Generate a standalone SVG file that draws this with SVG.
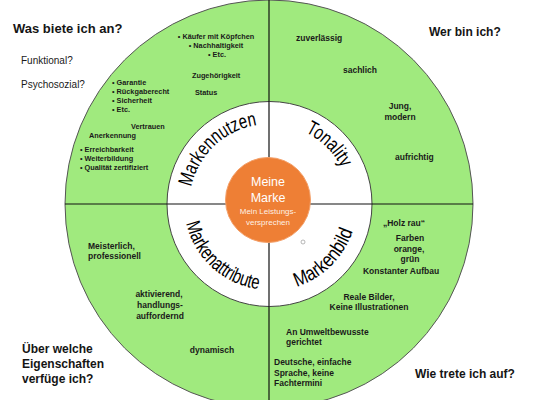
<svg xmlns="http://www.w3.org/2000/svg" width="533" height="400" viewBox="0 0 533 400">
<style>
  .q{font-family:"Liberation Sans",Arial,sans-serif;font-weight:bold;fill:#1a1a1a}
  .s{font-size:7.3px}
  .m{font-size:8.5px}
  .h{font-family:"Liberation Sans",Arial,sans-serif;font-weight:bold;fill:#151515}
  .n{font-family:"Liberation Sans",Arial,sans-serif;font-size:10px;fill:#1a1a1a}
  .arc{font-family:"Liberation Sans",Arial,sans-serif;font-size:20px;fill:#000}
  .c{text-anchor:middle}
  .w{font-family:"Liberation Sans",Arial,sans-serif;fill:#fff;text-anchor:middle}
</style>
<defs>
  <path id="pNutzen" d="M191.3,187.1 A80,80 0 0 1 257.5,125"/>
  <path id="pTon" d="M305.1,132.1 A80,80 0 0 1 341.2,167.2"/>
  <path id="pAttr" d="M186.2,223.3 A86,86 0 0 0 258.2,289.2"/>
  <path id="pBild" d="M296.6,286.8 A87,87 0 0 0 352.3,232.3"/>
</defs>
<rect width="533" height="400" fill="#fff"/>
<g id="ring">
  <circle cx="269" cy="204" r="204" fill="#a0ea7e" stroke="#555" stroke-width="1"/>
  <circle cx="269.5" cy="204" r="102.5" fill="#fff" stroke="#444" stroke-width="1"/>
</g>
<g id="connectors" stroke="#111" stroke-width="1.2">
  <line x1="269" y1="0" x2="269" y2="400"/>
  <line x1="65" y1="204" x2="473" y2="204"/>
</g>
<g id="core">
  <circle cx="268" cy="200" r="42.5" fill="#ee7f35" stroke="#f3a06a" stroke-width="1"/>
  <text class="w" x="268" y="185.5" font-size="12.5">Meine</text>
  <text class="w" x="268" y="201.5" font-size="12.5">Marke</text>
  <text class="w" x="268" y="214" font-size="8" fill-opacity="0.9">Mein Leistungs-</text>
  <text class="w" x="268" y="224.5" font-size="8" fill-opacity="0.9">versprechen</text>
</g>
<g id="markennutzen">
  <text class="arc"><textPath href="#pNutzen" textLength="96" lengthAdjust="spacingAndGlyphs">Markennutzen</textPath></text>
  <text class="q s c" x="216" y="39">• Käufer mit Köpfchen</text>
  <text class="q s c" x="216" y="48">• Nachhaltigkeit</text>
  <text class="q s c" x="217" y="57">• Etc.</text>
  <text class="q s" x="192" y="78">Zugehörigkeit</text>
  <text class="q s" x="195" y="95">Status</text>
  <text class="q s" x="112" y="85">• Garantie</text>
  <text class="q s" x="112" y="94">• Rückgaberecht</text>
  <text class="q s" x="112" y="103">• Sicherheit</text>
  <text class="q s" x="112" y="112">• Etc.</text>
  <text class="q s" x="131" y="129">Vertrauen</text>
  <text class="q s" x="89" y="138">Anerkennung</text>
  <text class="q s" x="80" y="152">• Erreichbarkeit</text>
  <text class="q s" x="80" y="161">• Weiterbildung</text>
  <text class="q s" x="80" y="170">• Qualität zertifiziert</text>
</g>
<g id="tonality">
  <text class="arc"><textPath href="#pTon" textLength="52" lengthAdjust="spacingAndGlyphs">Tonality</textPath></text>
  <text class="q m" x="296" y="41">zuverlässig</text>
  <text class="q m" x="343" y="73">sachlich</text>
  <text class="q m c" x="400" y="109">Jung,</text>
  <text class="q m c" x="400" y="120">modern</text>
  <text class="q m" x="395" y="160">aufrichtig</text>
</g>
<g id="markenattribute">
  <text class="arc"><textPath href="#pAttr" textLength="104" lengthAdjust="spacingAndGlyphs">Markenattribute</textPath></text>
  <text class="q m" x="88" y="249">Meisterlich,</text>
  <text class="q m" x="88" y="259">professionell</text>
  <text class="q m c" x="159" y="297">aktivierend,</text>
  <text class="q m c" x="160" y="308">handlungs-</text>
  <text class="q m c" x="160" y="319">auffordernd</text>
  <text class="q m c" x="212" y="353">dynamisch</text>
</g>
<g id="markenbild">
  <text class="arc"><textPath href="#pBild" textLength="82" lengthAdjust="spacingAndGlyphs">Markenbild</textPath></text>
  <circle cx="303" cy="242" r="2" fill="none" stroke="#999" stroke-width="0.7"/>
  <text class="q m c" x="404" y="226">„Holz rau“</text>
  <text class="q m c" x="410" y="241">Farben</text>
  <text class="q m c" x="409" y="252">orange,</text>
  <text class="q m c" x="410" y="262">grün</text>
  <text class="q m c" x="401" y="274">Konstanter Aufbau</text>
  <text class="q m c" x="369" y="300">Reale Bilder,</text>
  <text class="q m c" x="369" y="310">Keine Illustrationen</text>
  <text class="q m" x="286" y="335">An Umweltbewusste</text>
  <text class="q m" x="286" y="345">gerichtet</text>
  <text class="q m" x="274" y="365">Deutsche, einfache</text>
  <text class="q m" x="274" y="376">Sprache, keine</text>
  <text class="q m" x="274" y="386">Fachtermini</text>
</g>
<g id="questions">
  <text class="h" x="13" y="33" font-size="13">Was biete ich an?</text>
  <text class="n" x="21" y="64">Funktional?</text>
  <text class="n" x="21" y="88">Psychosozial?</text>
  <text class="h" x="429" y="36" font-size="12">Wer bin ich?</text>
  <text class="h" x="22" y="353" font-size="12">Über welche</text>
  <text class="h" x="22" y="368" font-size="12">Eigenschaften</text>
  <text class="h" x="22" y="383" font-size="12">verfüge ich?</text>
  <text class="h" x="415" y="378" font-size="12">Wie trete ich auf?</text>
</g>
</svg>
